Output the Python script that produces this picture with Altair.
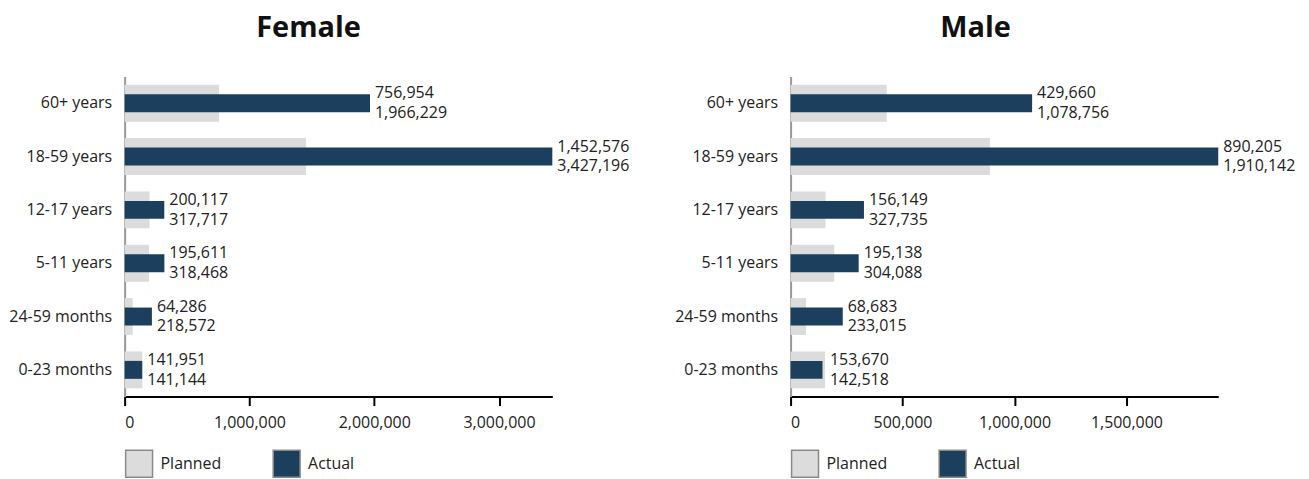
import altair as alt
import pandas as pd

categories = ["60+ years", "18-59 years", "12-17 years", "5-11 years", "24-59 months", "0-23 months"]
female_planned = [756954, 1452576, 200117, 195611, 64286, 141951]
female_actual = [1966229, 3427196, 317717, 318468, 218572, 141144]
male_planned = [429660, 890205, 156149, 195138, 68683, 153670]
male_actual = [1078756, 1910142, 327735, 304088, 233015, 142518]
female_ticks = [0, 1000000, 2000000, 3000000]
male_ticks = [0, 500000, 1000000, 1500000]

series_names = ["Planned", "Actual"]
series_colors = ["#dcdcdc", "#1d3f5e"]

FONT = "Open Sans"
W, H = 429, 321


def panel(title, planned, actual, ticks, dx):
    df = pd.DataFrame({"category": categories, "Planned": planned, "Actual": actual})
    df["maxv"] = df[["Planned", "Actual"]].max(axis=1)
    df["label"] = [f"{p:,}\n{a:,}" for p, a in zip(planned, actual)]
    xmax = max(max(planned), max(actual))
    xscale = alt.Scale(domain=[0, xmax], nice=False, zero=True)
    xaxis = alt.Axis(values=ticks, labelExpr="format(datum.value, ',')")
    yenc = alt.Y("category:N", sort=categories, title=None,
                 scale=alt.Scale(paddingInner=0, paddingOuter=0))
    color = alt.Color("series:N",
                      scale=alt.Scale(domain=series_names, range=series_colors),
                      legend=alt.Legend(title=None, orient="none", legendX=0, legendY=H + 53,
                                        direction="horizontal", symbolType="square",
                                        symbolSize=729, symbolStrokeColor="#8a8a8a",
                                        symbolStrokeWidth=1.5, labelFontSize=16,
                                        labelFont=FONT, labelColor="#222",
                                        labelOffset=7, columnPadding=49, padding=0))
    base = alt.Chart(df)
    planned_bar = base.transform_calculate(series="'Planned'").mark_bar(size=37).encode(
        x=alt.X("Planned:Q", scale=xscale, axis=xaxis, title=None),
        y=yenc, color=color)
    actual_bar = base.transform_calculate(series="'Actual'").mark_bar(size=18).encode(
        x=alt.X("Actual:Q", scale=xscale, axis=xaxis, title=None),
        y=yenc, color=color)
    text = base.mark_text(align="left", baseline="middle", dx=5, dy=-10, lineBreak="\n",
                          fontSize=16, lineHeight=20, font=FONT, color="#222").encode(
        x=alt.X("maxv:Q", scale=xscale, axis=xaxis, title=None),
        y=yenc, text="label:N")
    return alt.layer(planned_bar, actual_bar, text).properties(
        width=W, height=H,
        title=alt.TitleParams(title, fontSize=29, fontWeight="bold", font=FONT,
                              color="#111", anchor="middle", dx=dx, offset=34))


female = panel("Female", female_planned, female_actual, female_ticks, -30)
male = panel("Male", male_planned, male_actual, male_ticks, -29)

chart = alt.hconcat(female, male, spacing=44).resolve_scale(
    x="independent", color="independent").resolve_legend(color="independent").properties(
    padding={"left": 0, "top": 5, "right": 5, "bottom": 0}).configure_view(
    stroke=None).configure_axisY(
    domainColor="#999", domainWidth=2, ticks=False, labelPadding=13,
    labelFontSize=16, labelFont=FONT, labelColor="#222").configure_axisX(
    domainColor="#000", domainWidth=2, tickColor="#000", tickWidth=2, tickSize=9,
    labelPadding=9, labelFontSize=16, labelFont=FONT, labelColor="#222", grid=False)

chart.save("out.html", embed_options={"renderer": "svg", "actions": False})
